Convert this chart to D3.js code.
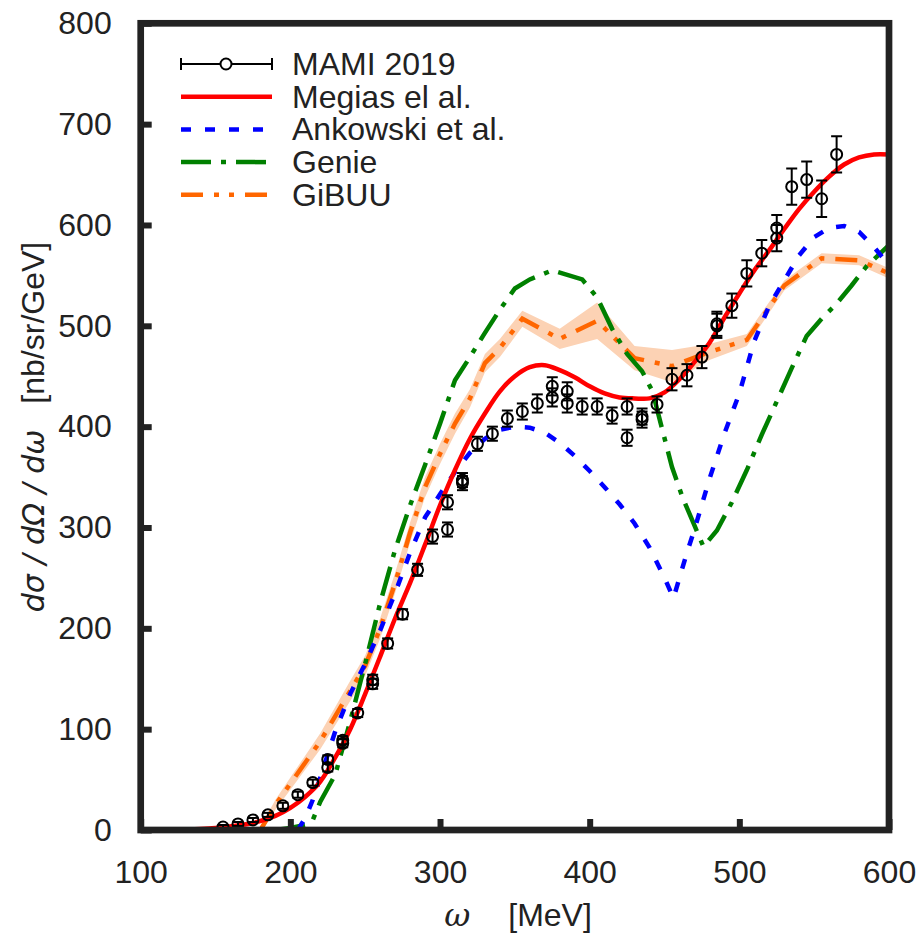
<!DOCTYPE html>
<html>
<head>
<meta charset="utf-8">
<script src="https://cdn.jsdelivr.net/npm/d3@7"></script>
<style>
  body { margin: 0; background: #fff; }
  text { font-family: "Liberation Sans", Arial, sans-serif; fill: #222; }
</style>
</head>
<body>
<div class="chart"></div>
<script>
// MAMI 2019 data points
let mamiW   = [155,165,175,185,195,205,215,225,225,235,235,245,255,255,265,275,285,295,305,305,315,315,325,335,345,355,365,375,375,385,385,395,405,415,425,425,435,435,445,455,465,475,485,485,495,505,515,525,525,535,545,555,565]
let mamiY   = [3,6,10,15,24,35,47,70,62,89,86,116,149,145,185,214,258,291,298,325,347,344,383,393,408,415,423,429,440,423,435,420,420,411,420,389,410,407,422,447,451,469,502,500,520,552,572,597,587,638,645,626,670]
let mamiErr = [2,2,2,2,3,3,3,4,4,4,4,4,5,5,5,5,6,7,7,7,7,7,7,7,8,8,9,9,9,9,9,8,8,8,8,8,8,8,8,11,11,11,12,12,12,13,13,13,13,18,18,18,18]

// Megias el al.
let megiasW = [125,150,175,190,200,210,220,230,240,250,260,270,280,290,300,310,320,330,340,350,360,370,380,390,400,410,420,430,440,450,460,470,480,490,500,510,520,530,540,550,560,570,580,590,600]
let megiasY = [0,2,7,14,22,33,48,72,100,135,172,210,245,283,322,357,388,413,435,450,459,461,456,449,440,433,429,428,428,434,447,464,483,508,532,555,575,596,616,633,648,660,667,670,670]

// Ankowski et al.
let ankW = [205,210,215,220,230,240,250,260,270,280,290,300,310,320,330,340,350,360,370,380,390,400,410,420,430,440,450,456,460,465,470,480,490,500,510,520,530,540,550,560,570,580,590,600]
let ankY = [0,12,30,52,98,135,165,198,235,275,310,333,355,374,388,397,400,399,394,384,371,356,340,323,304,280,250,230,250,275,298,348,393,433,485,520,545,570,588,597,599,593,578,560]

// Genie
let genieW = [190,200,210,215,220,230,240,250,260,270,280,290,300,310,320,330,340,350,360,375,395,405,415,425,435,442,448,455,462,470,476,485,495,505,515,525,535,545,555,565,575,585,600]
let genieY = [0,2,5,10,28,55,108,165,225,278,322,362,403,446,469,493,516,537,546,555,546,528,497,472,455,435,400,360,330,302,281,297,325,357,392,425,458,490,507,522,540,559,580]

// GiBUU and its band half-width
let gibuuW  = [180,190,200,210,220,230,240,250,260,270,280,290,300,310,320,330,340,355,380,405,430,455,480,505,530,555,580,600]
let gibuuY  = [0,25,46,67,88,113,138,163,200,245,295,340,373,403,428,463,478,507,487,505,468,460,474,486,540,567,565,552]
let gibuuHW = [3,5,6,7,8,9,10,10,10,10,10,10,10,10,9,9,9,8,10,18,12,16,8,6,5,5,5,5]

let xTicks = [100,200,300,400,500,600]
let yTicks = [0,100,200,300,400,500,600,700,800]

let legendNames = ["MAMI 2019", "Megias el al.", "Ankowski et al.", "Genie", "GiBUU"]

let margin = { top: 23.3, left: 140.7 }
let width = 889 - margin.left
let height = 830 - margin.top

let svg = d3.select('.chart')
  .append('svg')
    .attr('width', 921)
    .attr('height', 934)

let g = svg.append('g')
  .attr('transform', `translate(${margin.left}, ${margin.top})`)

let xScale = d3.scaleLinear().domain([100, 600]).range([0, width])
let yScale = d3.scaleLinear().domain([0, 800]).range([height, 0])

g.append('clipPath').attr('id', 'clip')
  .append('rect').attr('width', width).attr('height', height)

let plot = g.append('g').attr('clip-path', 'url(#clip)')

// GiBUU band
let band = d3.area()
  .x((d, i) => xScale(gibuuW[i]))
  .y0((d, i) => yScale(gibuuY[i] - gibuuHW[i]))
  .y1((d, i) => yScale(gibuuY[i] + gibuuHW[i]))
plot.append('path')
  .attr('d', band(gibuuY))
  .style('fill', '#fcd2b4')

function curve(ws, ys, color, dash, smooth) {
  let line = d3.line()
    .x((d, i) => xScale(ws[i]))
    .y(d => yScale(d))
  if (smooth) line.curve(d3.curveCatmullRom)
  plot.append('path')
    .attr('d', line(ys))
    .style('fill', 'none')
    .style('stroke', color)
    .style('stroke-width', 4.5)
    .style('stroke-dasharray', dash)
}

let styles = [
  { color: '#ff0000', dash: null },
  { color: '#0000ff', dash: '10,14' },
  { color: '#008000', dash: '30,10,5,10' },
  { color: '#ff6600', dash: '22,11,5,10,5,11' },
]

curve(gibuuW, gibuuY, styles[3].color, styles[3].dash, false)
curve(genieW, genieY, styles[2].color, styles[2].dash, false)
curve(ankW, ankY, styles[1].color, styles[1].dash, false)
curve(megiasW, megiasY, styles[0].color, styles[0].dash, true)

// data points
let pts = plot.selectAll('g.pt')
  .data(mamiY)
  .enter()
  .append('g')
    .attr('class', 'pt')
    .attr('transform', (d, i) => `translate(${xScale(mamiW[i])}, 0)`)
pts.append('line')
  .attr('y1', (d, i) => yScale(d - mamiErr[i]))
  .attr('y2', (d, i) => yScale(d + mamiErr[i]))
pts.append('line')
  .attr('x1', -5.5).attr('x2', 5.5)
  .attr('y1', (d, i) => yScale(d - mamiErr[i]))
  .attr('y2', (d, i) => yScale(d - mamiErr[i]))
pts.append('line')
  .attr('x1', -5.5).attr('x2', 5.5)
  .attr('y1', (d, i) => yScale(d + mamiErr[i]))
  .attr('y2', (d, i) => yScale(d + mamiErr[i]))
pts.selectAll('line').style('stroke', '#000').style('stroke-width', 2)
pts.append('circle')
  .attr('cy', d => yScale(d))
  .attr('r', 5.5)
  .style('fill', 'none')
  .style('stroke', '#000')
  .style('stroke-width', 2)

// axes
let yAxis = d3.axisLeft(yScale).tickValues(yTicks).tickSize(-11).tickPadding(29)
let xAxis = d3.axisBottom(xScale).tickValues(xTicks).tickSize(-11).tickPadding(30)

let ya = g.append('g').call(yAxis)
let xa = g.append('g').attr('transform', `translate(0, ${height})`).call(xAxis)
;[ya, xa].forEach(a => {
  a.select('.domain').remove()
  a.selectAll('.tick line').style('stroke', '#222').style('stroke-width', 6)
  a.selectAll('text').style('font-size', '32px').style('fill', '#222')
    .style('font-family', '"Liberation Sans", Arial, sans-serif')
})

g.append('rect')
  .attr('width', width)
  .attr('height', height)
  .style('fill', 'none')
  .style('stroke', '#222')
  .style('stroke-width', 6.7)

// axis titles
let xt = svg.append('text')
  .attr('x', 518).attr('y', 926)
  .attr('text-anchor', 'middle')
  .style('font-size', '32px')
xt.append('tspan').style('font-style', 'italic').style('font-family', '"DejaVu Serif", serif').text('ω')
xt.append('tspan').attr('dx', 38).text('[MeV]')

let yt = svg.append('text')
  .attr('transform', 'translate(44, 427) rotate(-90)')
  .attr('text-anchor', 'middle')
  .style('font-size', '32px')
yt.append('tspan')
  .style('font-style', 'italic')
  .style('font-family', '"DejaVu Sans", sans-serif')
  .style('font-size', '30px')
  .text('dσ / dΩ / dω')
yt.append('tspan').attr('dx', 26).text('[nb/sr/GeV]')

// legend
let lg = svg.append('g').attr('transform', 'translate(181, 64)')
legendNames.forEach((name, i) => {
  let row = lg.append('g').attr('transform', `translate(0, ${i * 32.7})`)
  if (i === 0) {
    row.append('line').attr('x1', 0).attr('x2', 91)
    row.append('line').attr('x1', 0).attr('x2', 0).attr('y1', -6).attr('y2', 6)
    row.append('line').attr('x1', 91).attr('x2', 91).attr('y1', -6).attr('y2', 6)
    row.selectAll('line').style('stroke', '#000').style('stroke-width', 2)
    row.append('circle').attr('cx', 45).attr('r', 5.5)
      .style('fill', '#fff').style('stroke', '#000').style('stroke-width', 2)
  } else {
    let s = styles[i - 1]
    row.append('line').attr('x1', 0).attr('x2', 91)
      .style('stroke', s.color).style('stroke-width', 4.5)
      .style('stroke-dasharray', s.dash)
  }
  row.append('text')
    .attr('x', 111).attr('y', 11)
    .style('font-size', '32px')
    .text(name)
})
</script>
</body>
</html>
